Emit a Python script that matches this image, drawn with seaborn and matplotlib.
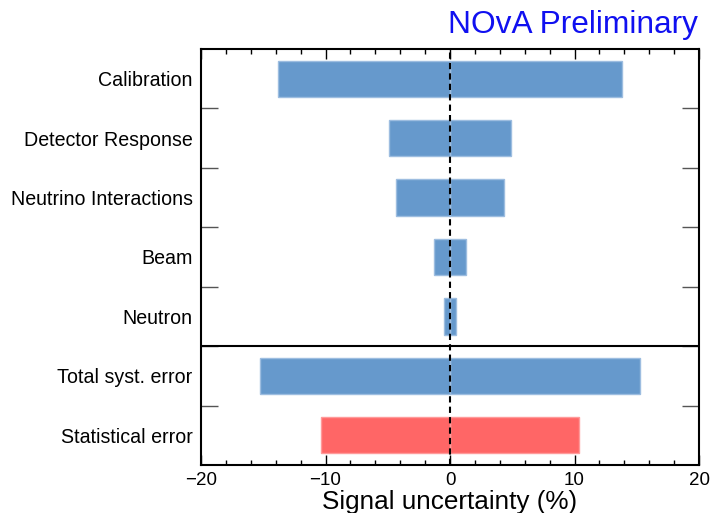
import matplotlib
matplotlib.use("Agg")
import matplotlib.pyplot as plt
from matplotlib.ticker import MultipleLocator, FixedLocator
import numpy as np
import pandas as pd
import seaborn as sns

# Uncertainty sources (top to bottom) and their symmetric size in percent
sources = [
    "Calibration",
    "Detector Response",
    "Neutrino Interactions",
    "Beam",
    "Neutron",
    "Total syst. error",
    "Statistical error",
]
uncertainty = [13.8, 4.9, 4.3, 1.3, 0.5, 15.3, 10.4]
kinds = ["syst", "syst", "syst", "syst", "syst", "syst", "stat"]

kind_colors = {"syst": "#6699CC", "stat": "#FF6666"}
kind_edges = {"syst": "#9DBDE0", "stat": "#FF9A9A"}

df = pd.DataFrame({"source": sources, "up": uncertainty, "kind": kinds})
df["down"] = -df["up"]

sns.set_style("ticks")
plt.rcParams["font.family"] = ["Liberation Sans", "DejaVu Sans"]
plt.rcParams["text.color"] = "black"
plt.rcParams["axes.labelcolor"] = "black"
plt.rcParams["xtick.labelcolor"] = "black"
plt.rcParams["ytick.labelcolor"] = "black"

fig = plt.figure(figsize=(7.1, 5.13), dpi=100)
ax = fig.add_axes([201 / 710, 48 / 513, 498 / 710, 416 / 513])

palette = {s: kind_colors[k] for s, k in zip(sources, kinds)}
for col in ["up", "down"]:
    sns.barplot(data=df, y="source", x=col, hue="source", palette=palette,
                orient="h", width=0.61, legend=False, saturation=1,
                linewidth=1, ax=ax)
for patch, k in zip(ax.patches, kinds * 2):
    patch.set_edgecolor(kind_edges[k])

ax.set_xlim(-20, 20)
ax.set_ylim(len(sources) - 0.5, -0.5)

# zero line and separator between individual and summary rows
ax.axvline(0, color="black", lw=1.5, ls=(0, (3, 2)), zorder=5)
ax.axhline(4.5, color="black", lw=1.5, zorder=5)

ax.xaxis.set_major_locator(MultipleLocator(10))
ax.xaxis.set_minor_locator(MultipleLocator(2))
ax.tick_params(axis="x", which="both", direction="in", top=True, bottom=True,
               labelsize=13.5, pad=5, color="black", labelcolor="black")
ax.tick_params(axis="x", which="major", length=7, width=1)
ax.tick_params(axis="x", which="minor", length=3.6, width=1)

ax.yaxis.set_minor_locator(FixedLocator(np.arange(0.5, len(sources) - 1, 1.0)))
ax.tick_params(axis="y", which="major", length=0, labelsize=14.1, pad=6,
               labelcolor="black")
ax.tick_params(axis="y", which="minor", direction="in", left=True, right=True,
               length=12.5, width=1, color="#555555")

for sp in ax.spines.values():
    sp.set_linewidth(1.5)
    sp.set_color("black")

ax.set_ylabel("")
ax.set_xlabel("Signal uncertainty (%)", fontsize=18.8, labelpad=1,
              color="black")

fig.text(698 / 710, 1 - 33 / 513, "NOvA Preliminary", color="#1010F0",
         fontsize=22.8, ha="right", va="baseline")

fig.savefig("out.png", dpi=100)
